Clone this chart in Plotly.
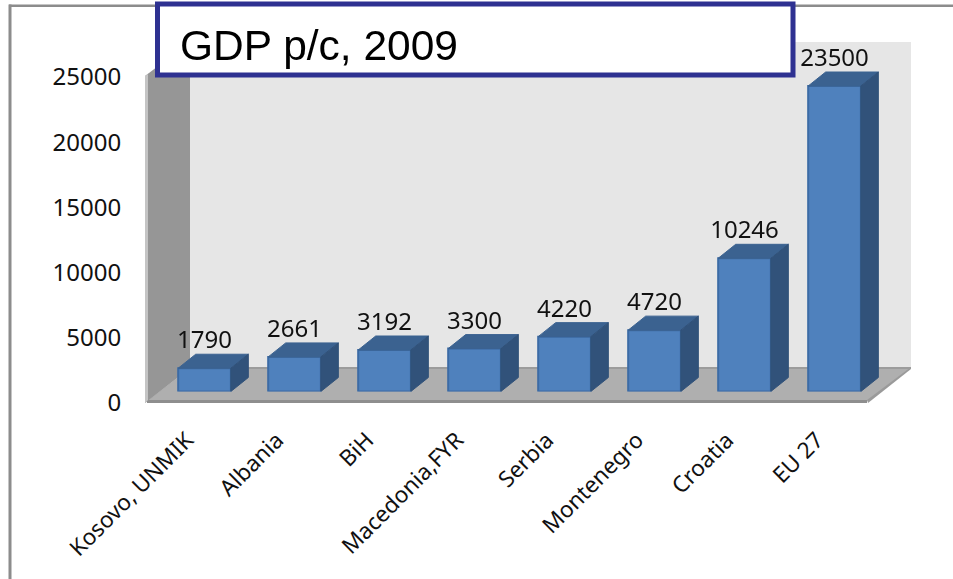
import plotly.graph_objects as go

categories = ["Kosovo, UNMIK", "Albania", "BiH", "Macedonia,FYR", "Serbia", "Montenegro", "Croatia", "EU 27"]
gdp_per_capita = [1790, 2661, 3192, 3300, 4220, 4720, 10246, 23500]
y_ticks = [0, 5000, 10000, 15000, 20000, 25000]
title_text = "GDP p/c, 2009"

W, H = 953, 579
FONT = "Noto Sans"
TS = 24
BAR_W = 0.585
DX = 17.5 / 90      # depth of a bar, in category units
DY = 1077           # depth of a bar, in value units


def px(x):
    return x / W


def py(y):
    return 1 - y / H


def poly(points, fill, line=None, width=0, layer="below"):
    d = "M " + " L ".join(f"{px(a):.5f},{py(b):.5f}" for a, b in points) + " Z"
    return dict(type="path", xref="paper", yref="paper", path=d, fillcolor=fill,
                line=dict(color=line or fill, width=width), layer=layer)


fig = go.Figure()

# invisible trace that carries the visible category and value axes
fig.add_trace(go.Scatter(x=list(range(8)), y=gdp_per_capita, mode="markers", opacity=0,
                         marker=dict(size=1), showlegend=False, hoverinfo="skip"))

# front faces
fig.add_trace(go.Bar(x=list(range(8)), y=gdp_per_capita, width=BAR_W, xaxis="x2", yaxis="y2",
                     marker=dict(color="#4f81bd", line=dict(color="#3c6ba5", width=2)),
                     showlegend=False, hoverinfo="skip"))

# top and side faces, from the same values
for i, v in enumerate(gdp_per_capita):
    l, r = i - BAR_W / 2, i + BAR_W / 2
    fig.add_trace(go.Scatter(x=[l, r, r + DX, l + DX, l], y=[v, v, v + DY, v + DY, v],
                             xaxis="x2", yaxis="y2", mode="lines", fill="toself",
                             fillcolor="#3b6290", line=dict(color="#3b6290", width=1),
                             showlegend=False, hoverinfo="skip"))
    fig.add_trace(go.Scatter(x=[r, r + DX, r + DX, r, r], y=[0, DY, v + DY, v, 0],
                             xaxis="x2", yaxis="y2", mode="lines", fill="toself",
                             fillcolor="#31527a", line=dict(color="#31527a", width=1),
                             showlegend=False, hoverinfo="skip"))

# value labels
fig.add_trace(go.Scatter(x=list(range(8)), y=[v + DY for v in gdp_per_capita],
                         xaxis="x2", yaxis="y2", mode="text",
                         text=[str(v) for v in gdp_per_capita], textposition="top center",
                         textfont=dict(family=FONT, size=TS, color="#111111"),
                         showlegend=False, hoverinfo="skip", cliponaxis=False))

shapes = [
    # back wall
    poly([(190, 42), (911, 42), (911, 368), (190, 368)], "#e6e6e6"),
    # floor
    poly([(147, 401), (190, 368), (911, 368), (867, 401)], "#afafaf"),
    # floor edges
    poly([(147, 400), (867, 400), (867, 403), (147, 403)], "#8e8e8e"),
    poly([(867, 400), (911, 367), (911, 369), (868, 403)], "#9a9a9a"),
    poly([(190, 367), (911, 367), (911, 369), (190, 369)], "#9c9c9c"),
    # left wall
    poly([(145, 76), (190, 42), (190, 368), (145, 403)], "#969696"),
    poly([(145, 76), (148, 74), (148, 400), (145, 403)], "#c4c4c4"),
    # outer frame
    poly([(9, 4.5), (W, 4.5), (W, 7), (9, 7)], "#8c8c8c"),
    poly([(8.5, 4.5), (11.5, 4.5), (11.5, H), (8.5, H)], "#8c8c8c"),
    # title box
    dict(type="rect", xref="paper", yref="paper", x0=px(157.5), x1=px(793), y0=py(75), y1=py(4),
         fillcolor="white", line=dict(color="#2e3191", width=5), layer="above"),
]

fig.update_layout(
    width=W, height=H, margin=dict(l=0, r=0, t=0, b=0, autoexpand=False),
    paper_bgcolor="white", plot_bgcolor="rgba(0,0,0,0)",
    showlegend=False, shapes=shapes, barmode="overlay",
    xaxis=dict(domain=[px(142), px(862)], range=[-0.5, 7.5], tickmode="array",
               tickvals=list(range(8)), ticktext=categories, tickangle=-45, automargin=False,
               showgrid=False, zeroline=False, showline=False, ticks="outside", ticklen=14.5,
               tickcolor="rgba(0,0,0,0)", anchor="y",
               tickfont=dict(family=FONT, size=22.5, color="#111111")),
    yaxis=dict(domain=[py(402.5), py(77)], range=[0, 25000], tickmode="array", tickvals=y_ticks,
               ticktext=[str(t) for t in y_ticks], showgrid=False, zeroline=False, showline=False,
               automargin=False, ticks="outside", ticklen=15, tickcolor="rgba(0,0,0,0)", anchor="x",
               tickfont=dict(family=FONT, size=TS, color="#111111")),
    xaxis2=dict(domain=[px(159.5), px(879.5)], range=[-0.5, 7.5], visible=False, anchor="y2"),
    yaxis2=dict(domain=[py(391.5), py(66.5)], range=[0, 25000], visible=False, anchor="x2"),
    annotations=[dict(text=title_text, xref="paper", yref="paper", x=px(178), y=py(45),
                      xanchor="left", yanchor="middle", showarrow=False,
                      font=dict(family="Liberation Sans", size=42.5, color="black"))],
)

fig.write_html("out.html", config=dict(displayModeBar=False, responsive=False),
               post_script="document.body.style.margin='0';document.documentElement.style.overflow='hidden';")
